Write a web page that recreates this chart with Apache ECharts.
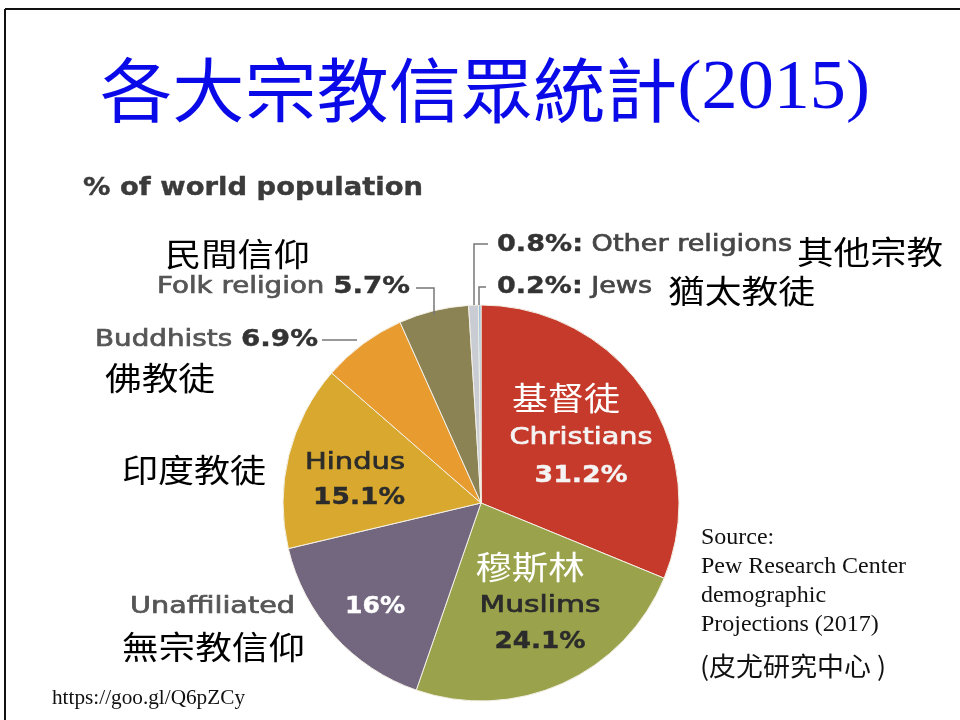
<!DOCTYPE html>
<html><head><meta charset="utf-8">
<script src="https://cdn.jsdelivr.net/npm/echarts@6/dist/echarts.min.js"></script>
<style>html,body{margin:0;padding:0;background:#fff}#c{width:960px;height:720px}</style>
</head><body><div id="c"></div>
<script>
// ---- data ----
var categories = ['Christians','Muslims','Unaffiliated','Hindus','Buddhists','Folk religion','Other religions','Jews'];
var chineseNames = ['基督徒','穆斯林','無宗教信仰','印度教徒','佛教徒','民間信仰','其他宗教','猶太教徒'];
var values = [31.2, 24.1, 16, 15.1, 6.9, 5.7, 0.8, 0.2];
var titleText = '各大宗教信眾統計(2015)';
var subtitleText = '% of world population';
var sourceLines = ['Source:', 'Pew Research Center', 'demographic', 'Projections (2017)'];
var sourceChinese = '(皮尤研究中心 )';
var linkText = 'https://goo.gl/Q6pZCy';

// ---- styles ----
var colors = ['#c63a2b','#9aa34b','#736780','#d8a92e','#e89b2e','#8c8355','#c9cdd3','#93bcd9'];
var SANS = '"DejaVu Sans", sans-serif';
var CJK = '"Noto Sans CJK TC"';
var SERIF = '"Liberation Serif", serif';
function pct(v){ return v + '%'; }

var mctx = document.createElement('canvas').getContext('2d');
function measure(t, font){ mctx.font = font; return mctx.measureText(t).width; }

var chart = echarts.init(document.getElementById('c'));
var g = [];
// frame
g.push({type:'line', shape:{x1:5,y1:9,x2:962,y2:9}, style:{stroke:'#111',lineWidth:2}});
g.push({type:'line', shape:{x1:5,y1:9,x2:5,y2:722}, style:{stroke:'#111',lineWidth:2}});

// text fitted to a target width (layout)
function fit(x, y, parts, width, align){
  var total = 0, rich = {}, str = '';
  parts.forEach(function(p, i){
    total += measure(p.t, p.font);
    rich['p'+i] = {fill:p.fill, font:p.font};
    if (p.thick) { rich['p'+i].stroke = p.fill; rich['p'+i].lineWidth = p.thick; }
    str += '{p'+i+'|'+p.t+'}';
  });
  var s = width ? width / total : 1;
  g.push({type:'text', x:x, y:y, z:10, scaleX:s,
    style:{text:str, rich:rich, align:align||'left', verticalAlign:'middle'}});
}
function P(t, size, opt){
  opt = opt||{};
  var fam = opt.family||SANS;
  return {t:t, fill:opt.fill||'#464646', font:(opt.bold?'bold ':'')+size+'px '+fam,
          thick: (fam===SANS ? (opt.bold?0.4:0.7) : 0)};
}
function poly(pts){ g.push({type:'polyline', z:10, shape:{points:pts}, style:{stroke:'#777', lineWidth:1.5, fill:null}}); }

// title
fit(485, 90, [P(titleText.slice(0,8), 70, {fill:'#0a0ae8', family:CJK}), P(titleText.slice(8), 70, {fill:'#0a0ae8', family:SERIF})], 770, 'center');
fit(83, 188, [P(subtitleText, 25, {bold:true, fill:'#3b3b3b'})], 340, 'left');

var LS = 23, CS = 32;
// small slices
fit(497, 245, [P(pct(values[6])+':', LS, {bold:true, fill:'#333'}), P(' '+categories[6], LS)], 295, 'left');
fit(797, 252, [P(chineseNames[6], CS, {fill:'#000', family:CJK})], 146, 'left');
poly([[488,244],[474,244],[474,305]]);
fit(497, 287, [P(pct(values[7])+':', LS, {bold:true, fill:'#333'}), P(' '+categories[7], LS)], 155, 'left');
fit(668, 291, [P(chineseNames[7], CS, {fill:'#000', family:CJK})], 147, 'left');
poly([[486,287],[479,287],[479,305]]);

// folk
fit(410, 287, [P(categories[5]+' ', LS, {fill:'#555'}), P(pct(values[5]), LS, {bold:true, fill:'#333'})], 253, 'right');
fit(165, 254, [P(chineseNames[5], CS, {fill:'#000', family:CJK})], 145, 'left');
poly([[416,288],[434,288],[434,315]]);

// buddhists
fit(318, 340, [P(categories[4]+' ', LS, {fill:'#555'}), P(pct(values[4]), LS, {bold:true, fill:'#333'})], 223, 'right');
fit(105, 378, [P(chineseNames[4], CS, {fill:'#000', family:CJK})], 110, 'left');
poly([[322,340],[357,340]]);

// hindus
fit(122, 470, [P(chineseNames[3], CS, {fill:'#000', family:CJK})], 144, 'left');
fit(355, 463, [P(categories[3], LS, {fill:'#2b2b2b'})], 100, 'center');
fit(359, 498, [P(pct(values[3]), LS, {bold:true, fill:'#2b2b2b'})], 92, 'center');

// unaffiliated
fit(295, 607, [P(categories[2], LS, {fill:'#555'})], 165, 'right');
fit(375, 607, [P(pct(values[2]), LS, {bold:true, fill:'#fff'})], 60, 'center');
fit(122, 647, [P(chineseNames[2], CS, {fill:'#000', family:CJK})], 183, 'left');

// christians
fit(566, 398, [P(chineseNames[0], CS, {fill:'#fff', family:CJK})], 108, 'center');
fit(581, 438, [P(categories[0], LS, {fill:'#f4f4f4'})], 143, 'center');
fit(581, 476, [P(pct(values[0]), LS, {bold:true, fill:'#f4f4f4'})], 93, 'center');

// muslims
fit(530, 567, [P(chineseNames[1], CS, {fill:'#fff', family:CJK})], 109, 'center');
fit(540, 606, [P(categories[1], LS, {fill:'#2b2b2b'})], 121, 'center');
fit(540, 642, [P(pct(values[1]), LS, {bold:true, fill:'#2b2b2b'})], 91, 'center');

// source
var srcScale = 205 / measure(sourceLines[1], '24px '+SERIF);
sourceLines.forEach(function(s, i){
  fit(701, 538 + i*29, [P(s, 24, {fill:'#111', family:SERIF})], measure(s, '24px '+SERIF)*srcScale, 'left');
});
fit(700, 666, [P(sourceChinese, 26, {fill:'#111', family:CJK})], 186, 'left');
fit(52, 698, [P(linkText, 21, {fill:'#111', family:SERIF})], 193, 'left');

chart.setOption({
  animation:false,
  backgroundColor:'#fff',
  color: colors,
  series:[{
    type:'pie',
    center:[481,503],
    radius:[0,198],
    startAngle:90,
    clockwise:true,
    label:{show:false},
    labelLine:{show:false},
    itemStyle:{borderColor:'#f3f0e6', borderWidth:1},
    data: categories.map(function(c,i){ return {name:c, value:values[i]}; })
  }],
  graphic: g
});
</script></body></html>
